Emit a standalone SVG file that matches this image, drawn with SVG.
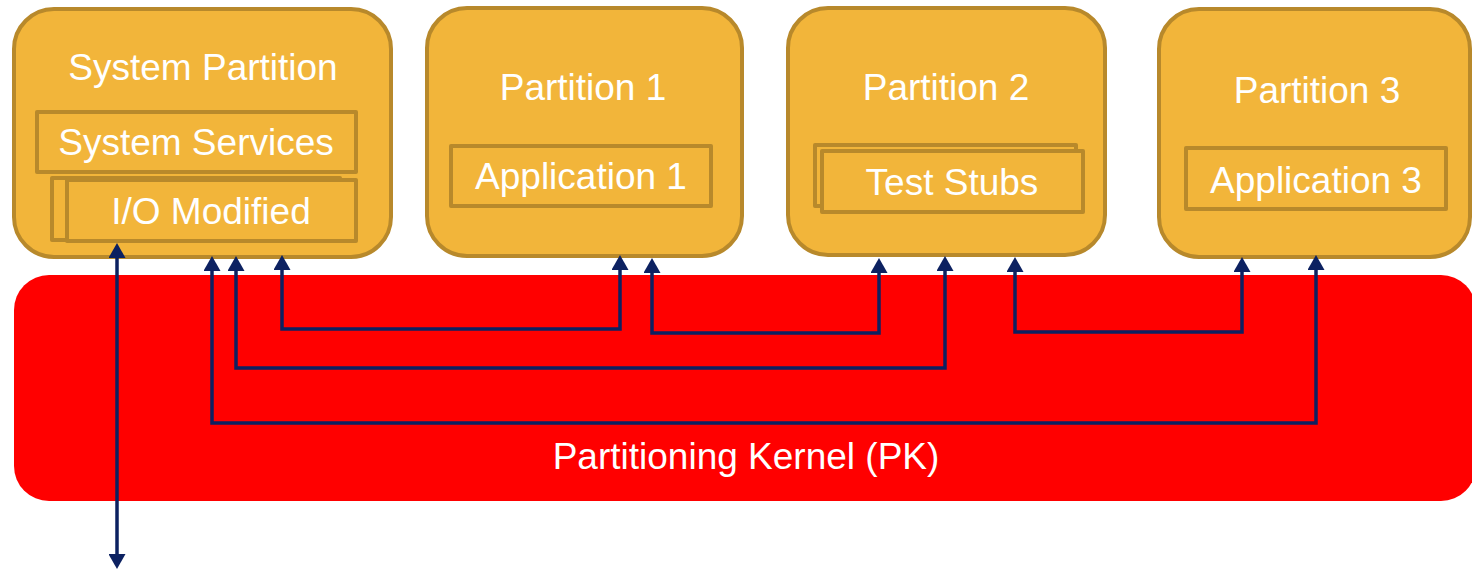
<svg xmlns="http://www.w3.org/2000/svg" width="1472" height="570" viewBox="0 0 1472 570">
<style>
.part{fill:#F2B53A;stroke:#B8892B;stroke-width:4}
.inner{fill:#F2B53A;stroke:#B8892B;stroke-width:4;stroke-linejoin:round}
.lbl{font-family:"Liberation Sans",Arial,sans-serif;font-size:37px;fill:#FFFFFF;text-anchor:middle}
.conn{fill:none;stroke:#0C2161;stroke-width:3.5;stroke-linejoin:miter}
</style>
<defs>
<marker id="ah" viewBox="0 0 15 17" refX="11" refY="8.5" markerWidth="15" markerHeight="17" markerUnits="userSpaceOnUse" orient="auto-start-reverse">
<path d="M0,0 L15,8.5 L0,17 z" fill="#0C2161"/>
</marker>
</defs>
<rect width="1472" height="570" fill="#FFFFFF"/>
<g id="kernel">
<rect x="14" y="275" width="1462" height="226" rx="35" ry="35" fill="#FF0000"/>
<text class="lbl" x="746" y="469">Partitioning Kernel (PK)</text>
</g>
<g id="system-partition">
<rect class="part" x="14" y="9" width="377" height="248" rx="40" ry="40"/>
<text class="lbl" x="203" y="80">System Partition</text>
<rect class="inner" x="37" y="112" width="319" height="60"/>
<text class="lbl" x="196" y="155">System Services</text>
<rect class="inner" x="52" y="178" width="288" height="62"/>
<rect class="inner" x="67" y="180" width="289" height="61"/>
<text class="lbl" x="211" y="224">I/O Modified</text>
</g>
<g id="partition-1">
<rect class="part" x="427" y="8" width="315" height="248" rx="40" ry="40"/>
<text class="lbl" x="583" y="100">Partition 1</text>
<rect class="inner" x="451" y="146" width="260" height="60"/>
<text class="lbl" x="581" y="189">Application 1</text>
</g>
<g id="partition-2">
<rect class="part" x="788" y="8" width="317" height="247" rx="40" ry="40"/>
<text class="lbl" x="946" y="100">Partition 2</text>
<rect class="inner" x="815" y="145" width="261" height="61"/>
<rect class="inner" x="822" y="151" width="261" height="61"/>
<text class="lbl" x="952" y="195">Test Stubs</text>
</g>
<g id="partition-3">
<rect class="part" x="1159" y="9" width="311" height="248" rx="40" ry="40"/>
<text class="lbl" x="1317" y="103">Partition 3</text>
<rect class="inner" x="1186" y="148" width="260" height="61"/>
<text class="lbl" x="1316" y="193">Application 3</text>
</g>
<g id="connectors">
<path class="conn" d="M117,247 V565" marker-start="url(#ah)" marker-end="url(#ah)"/>
<path class="conn" d="M282,259 V329 H620 V259" marker-start="url(#ah)" marker-end="url(#ah)"/>
<path class="conn" d="M236,260 V368 H945 V260" marker-start="url(#ah)" marker-end="url(#ah)"/>
<path class="conn" d="M212,260 V423 H1316 V259" marker-start="url(#ah)" marker-end="url(#ah)"/>
<path class="conn" d="M652,262 V333 H879 V262" marker-start="url(#ah)" marker-end="url(#ah)"/>
<path class="conn" d="M1015,261 V332 H1242 V261" marker-start="url(#ah)" marker-end="url(#ah)"/>
</g>
</svg>
